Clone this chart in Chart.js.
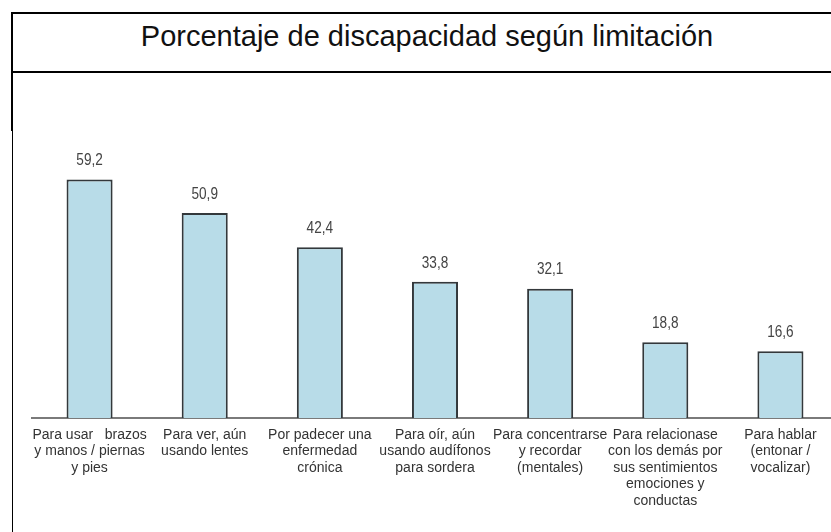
<!DOCTYPE html>
<html>
<head>
<meta charset="utf-8">
<script src="https://cdn.jsdelivr.net/npm/chart.js@4.4.1/dist/chart.umd.min.js"></script>
<style>
  html, body { margin: 0; padding: 0; background: #fff; overflow: hidden; width: 831px; height: 532px; }
  .line { position: absolute; background: #000; }
  #title { position: absolute; left: 77px; width: 700px; top: 18px; text-align: center;
           font-family: "Liberation Sans", Arial, sans-serif; font-size: 29px; color: #111; line-height: 36px; }
  #wrap { position: absolute; left: 0; top: 0; width: 838px; height: 532px; }
</style>
</head>
<body>
<div class="line" style="left:11px;top:12px;width:820px;height:2px"></div>
<div class="line" style="left:11px;top:71px;width:820px;height:2px"></div>
<div class="line" style="left:11px;top:12px;width:2px;height:119px"></div>
<div class="line" style="left:12px;top:131px;width:1px;height:401px"></div>
<div id="title">Porcentaje de discapacidad según limitación</div>
<div id="wrap"><canvas id="chart" width="838" height="532"></canvas></div>
<script>
const categories = [
  ["Para usar   brazos", "y manos / piernas", "y pies"],
  ["Para ver, aún", "usando lentes"],
  ["Por padecer una", "enfermedad", "crónica"],
  ["Para oír, aún", "usando audífonos", "para sordera"],
  ["Para concentrarse", "y recordar", "(mentales)"],
  ["Para relacionase", "con los demás por", "sus sentimientos", "emociones y", "conductas"],
  ["Para hablar", "(entonar /", "vocalizar)"]
];
const values = [59.2, 50.9, 42.4, 33.8, 32.1, 18.8, 16.6];
const valueLabels = ["59,2", "50,9", "42,4", "33,8", "32,1", "18,8", "16,6"];

const sans = '"Liberation Sans", Arial, sans-serif';

// value labels above the bars, squeezed horizontally to look like a narrow face
const valueLabelPlugin = {
  id: "valueLabels",
  afterDatasetsDraw(chart) {
    const ctx = chart.ctx;
    const meta = chart.getDatasetMeta(0);
    ctx.save();
    ctx.font = "17px " + sans;
    ctx.fillStyle = "#444";
    ctx.textAlign = "center";
    ctx.textBaseline = "middle";
    meta.data.forEach(function (bar, i) {
      ctx.save();
      ctx.translate(bar.x, bar.y - 19);
      ctx.scale(0.8, 1);
      ctx.fillText(valueLabels[i], 0, 0);
      ctx.restore();
    });
    ctx.restore();
  }
};

const ctx = document.getElementById("chart").getContext("2d");
new Chart(ctx, {
  type: "bar",
  data: {
    labels: categories,
    datasets: [{
      data: values,
      backgroundColor: "#b8dce8",
      borderColor: "#33383b",
      borderWidth: 2,
      barPercentage: 0.4,
      categoryPercentage: 1.0
    }]
  },
  options: {
    responsive: false,
    animation: false,
    layout: { padding: { left: 32, right: 0, top: 136, bottom: 0 } },
    plugins: { legend: { display: false }, tooltip: { enabled: false } },
    scales: {
      x: {
        grid: { display: false },
        border: { display: true, color: "#7a7a7a", width: 2 },
        afterFit: function (scale) { scale.height = 114; },
        ticks: {
          color: "#333",
          padding: 1,
          maxRotation: 0,
          autoSkip: false,
          font: { family: sans, size: 14, lineHeight: 1.17 }
        }
      },
      y: {
        display: false,
        min: 0,
        max: 70
      }
    }
  },
  plugins: [valueLabelPlugin]
});
</script>
</body>
</html>
